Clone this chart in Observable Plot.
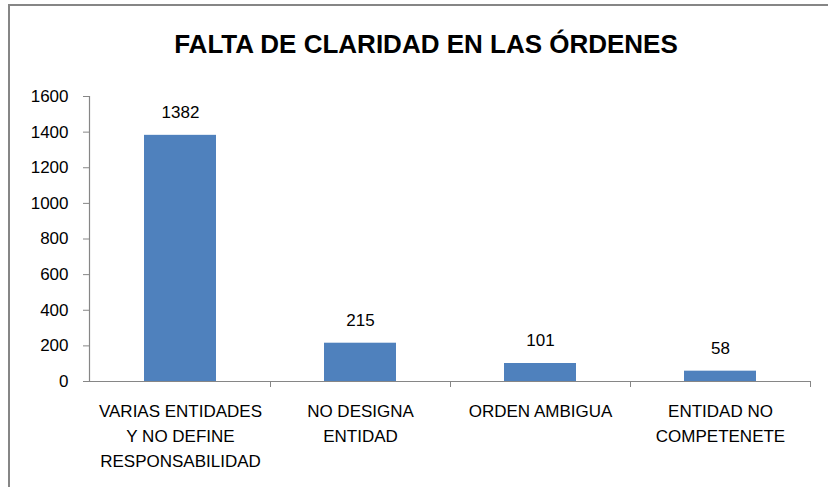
<!DOCTYPE html>
<html>
<head>
<meta charset="utf-8">
<script src="https://cdn.jsdelivr.net/npm/d3@7"></script>
<script src="https://cdn.jsdelivr.net/npm/@observablehq/plot@0.6"></script>
<style>
  html, body { margin: 0; padding: 0; background: #fff; }
  #wrap { position: relative; width: 828px; height: 487px; overflow: hidden; font-family: "Liberation Sans", Arial, sans-serif; }
  #border { position: absolute; left: 8px; top: 4px; right: -4px; bottom: -4px; border-left: 2px solid #868686; border-top: 2px solid #868686; }
  #title { position: absolute; left: 10px; right: 0; top: 29px; text-align: center; font-weight: bold; font-size: 26px; line-height: 30px; color: #000; padding-left: 14px; }
  #chart { position: absolute; left: 0; top: 0; }
</style>
</head>
<body>
<div id="wrap">
  <div id="border"></div>
  <div id="title">FALTA DE CLARIDAD EN LAS ÓRDENES</div>
  <div id="chart"></div>
</div>
<script>
const categories = [
  "VARIAS ENTIDADES\nY NO DEFINE\nRESPONSABILIDAD",
  "NO DESIGNA\nENTIDAD",
  "ORDEN AMBIGUA",
  "ENTIDAD NO\nCOMPETENETE"
];
const values = [1382, 215, 101, 58];
const yTicks = [0, 200, 400, 600, 800, 1000, 1200, 1400, 1600];

const data = categories.map((c, i) => ({category: c, value: values[i]}));
const gray = "#868686";

const chart = Plot.plot({
  width: 828,
  height: 487,
  marginLeft: 89,
  marginRight: 17,
  marginTop: 96,
  marginBottom: 106,
  style: {fontFamily: "'Liberation Sans', Arial, sans-serif", fontSize: "17px", color: "#000", background: "transparent", overflow: "visible"},
  x: {domain: categories, paddingInner: 0, paddingOuter: 0},
  y: {domain: [0, 1600]},
  marks: [
    Plot.barY(data, {x: "category", y: "value", fill: "#4F81BD", insetLeft: 54, insetRight: 54}),
    Plot.text(data, {x: "category", y: "value", text: d => String(d.value), dy: -23, fontSize: 17, fill: "#000"}),
    Plot.frame({anchor: "left", stroke: gray, strokeWidth: 1.2}),
    Plot.ruleY([0], {stroke: gray, strokeWidth: 1.2, insetLeft: -3}),
    Plot.axisY({ticks: yTicks, tickFormat: d => String(d), tickSize: 6, tickPadding: 15, stroke: gray, fill: "#000", fontSize: 17, label: null, strokeOpacity: 1}),
    Plot.axisX({ticks: categories, tickSize: 6, dx: 90, tickFormat: () => "", stroke: gray, strokeOpacity: 1, label: null}),
    Plot.axisX({ticks: categories, tickSize: 0, tickPadding: 18, fontSize: 17, lineHeight: 1.46, fill: "#000", label: null})
  ]
});
document.getElementById("chart").appendChild(chart);
</script>
</body>
</html>
